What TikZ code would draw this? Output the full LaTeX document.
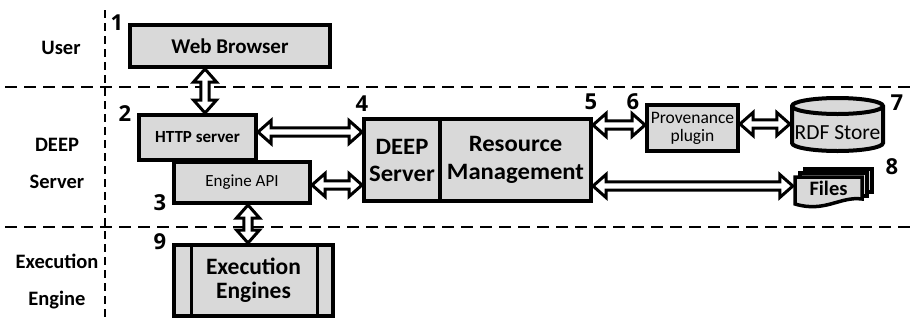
\documentclass[tikz,border=0pt]{standalone}
\usepackage{fontspec}
\setmainfont{Carlito}
\newfontfamily\widefont{Carlito}[FakeStretch=1.05]
\newfontfamily\numfont{Open Sans}
\usetikzlibrary{calc}

\definecolor{boxgray}{gray}{0.85}

\tikzset{
  box/.style={draw=black, fill=boxgray, line width=4pt, inner sep=0pt, align=center},
  lane/.style={black, line width=2pt, dash pattern=on 12pt off 7pt},
  lanev/.style={black, line width=2pt, dash pattern=on 8pt off 5pt},
  lanelabel/.style={font=\fontsize{20.5}{37}\selectfont\bfseries, align=center},
  num/.style={font=\numfont\fontsize{22}{22}\selectfont\bfseries, inner sep=0pt},
  % hollow block arrow with a head at both ends
  dblarrow/.style={draw=black, fill=white, line width=3pt, line join=miter,
    to path={
      ($(\tikztostart)!13pt!(\tikztotarget)$) coordinate (dblA)
      ($(\tikztotarget)!13pt!(\tikztostart)$) coordinate (dblB)
      (\tikztostart)
        -- ($(dblA)!11.5pt!90:(\tikztotarget)$)
        -- ($(dblA)!4.2pt!90:(\tikztotarget)$)
        -- ($(dblB)!4.2pt!-90:(\tikztostart)$)
        -- ($(dblB)!11.5pt!-90:(\tikztostart)$)
        -- (\tikztotarget)
        -- ($(dblB)!11.5pt!90:(\tikztostart)$)
        -- ($(dblB)!4.2pt!90:(\tikztostart)$)
        -- ($(dblA)!4.2pt!-90:(\tikztotarget)$)
        -- ($(dblA)!11.5pt!-90:(\tikztotarget)$)
        -- cycle}},
}

\begin{document}
\begin{tikzpicture}[x=1pt, y=-1pt]
\useasboundingbox (0,0) rectangle (915,322);

% swim lanes
\draw[lane] (5,87) -- (915,87);
\draw[lane] (5,227) -- (915,227);
\draw[lanev] (105,10) -- (105,320);

\node[lanelabel] (luser) at (61,48) {User};
\node[lanelabel] (lserver) at (57,163.5) {DEEP\\Server};
\node[lanelabel] (lengine) at (57,282) {Execution\\Engine};

% components
\node[box, minimum width=200pt, minimum height=42pt,
      font=\fontsize{21}{21}\selectfont\bfseries] (web) at (230,46) {Web Browser};
\node[box, minimum width=117pt, minimum height=45pt,
      font=\fontsize{17}{17}\selectfont\bfseries] (http) at (197.5,137.5) {HTTP server};
\node[box, minimum width=136pt, minimum height=41pt,
      font=\fontsize{17}{17}\selectfont] (api) at (242,182.5) {Engine API};
\node[box, minimum width=76pt, minimum height=82pt,
      font=\widefont\fontsize{23.5}{27}\selectfont\bfseries] (deep) at (402,160) {DEEP\\Server};
\node[box, minimum width=151pt, minimum height=82pt,
      font=\widefont\fontsize{23.5}{28}\selectfont\bfseries] (rm) at (515.5,160) {Resource\\Management};
\node[box, minimum width=91pt, minimum height=46pt,
      font=\fontsize{17.5}{18}\selectfont] (prov) at (692.5,128) {Provenance\\plugin};
\node[box, minimum width=159pt, minimum height=71pt,
      font=\fontsize{23.5}{24}\selectfont\bfseries] (exec) at (253.5,280.5) {Execution\\Engines};
\draw[line width=3pt] ([xshift=19pt]exec.north west) -- ([xshift=19pt]exec.south west);
\draw[line width=3pt] ([xshift=-18pt]exec.north east) -- ([xshift=-18pt]exec.south east);

% RDF store (cylinder)
\filldraw[fill=boxgray, draw=black, line width=4pt]
  (792,106) -- (792,143)
  .. controls (792,147.4) and (812.37,151) .. (837.5,151)
  .. controls (862.63,151) and (883,147.4) .. (883,143)
  -- (883,106)
  .. controls (883,101.6) and (862.63,98) .. (837.5,98)
  .. controls (812.37,98) and (792,101.6) .. (792,106) -- cycle;
\draw[line width=4pt]
  (792,106) .. controls (792,110.4) and (812.37,114) .. (837.5,114)
  .. controls (862.63,114) and (883,110.4) .. (883,106);
\node[inner sep=0pt, minimum width=95pt, font=\fontsize{21.5}{21.5}\selectfont] (rdf) at (837.5,133) {RDF Store};

% files (stack of documents)
\filldraw[fill=boxgray, draw=black, line width=3.5pt] (805,169) rectangle (872,192);
\filldraw[fill=boxgray, draw=black, line width=3.5pt] (800,173) rectangle (867,196);
\filldraw[fill=boxgray, draw=black, line width=3.5pt]
  (795,177) -- (862,177) -- (862,199)
  .. controls (840,196) and (825,213) .. (795,204) -- cycle;
\node[inner sep=0pt, minimum width=71pt, font=\fontsize{20.5}{20.5}\selectfont\bfseries] (files) at (828.5,188) {Files};

% connectors
\draw[dblarrow] ([xshift=-25pt]web.south) to ([xshift=-25pt]web.south |- http.north);
\coordinate (hd) at ([yshift=5.5pt]http.east);
\draw[dblarrow] (hd) to (hd -| deep.west);
\coordinate (ad) at ([yshift=-2.5pt]api.east);
\draw[dblarrow] (ad) to (ad -| deep.west);
\coordinate (ae) at ([xshift=6pt]api.south);
\draw[dblarrow] (ae) to (ae |- exec.north);
\coordinate (rp) at ([yshift=3pt]prov.west);
\draw[dblarrow] (rp -| rm.east) to (rp);
\coordinate (pr) at ([yshift=4pt]prov.east);
\draw[dblarrow] (pr) to (pr -| rdf.west);
\coordinate (rf) at ([yshift=2pt]files.west);
\draw[dblarrow] (rf -| rm.east) to (rf);

% component numbers
\node[num] (n1) at (117,23) {1};
\node[num] (n2) at (125,114) {2};
\node[num] (n3) at (160,203) {3};
\node[num] (n4) at (362,104) {4};
\node[num] (n5) at (591,102) {5};
\node[num] (n6) at (633,102) {6};
\node[num] (n7) at (897,103) {7};
\node[num] (n8) at (892,167) {8};
\node[num] (n9) at (160,242) {9};
\end{tikzpicture}
\end{document}
